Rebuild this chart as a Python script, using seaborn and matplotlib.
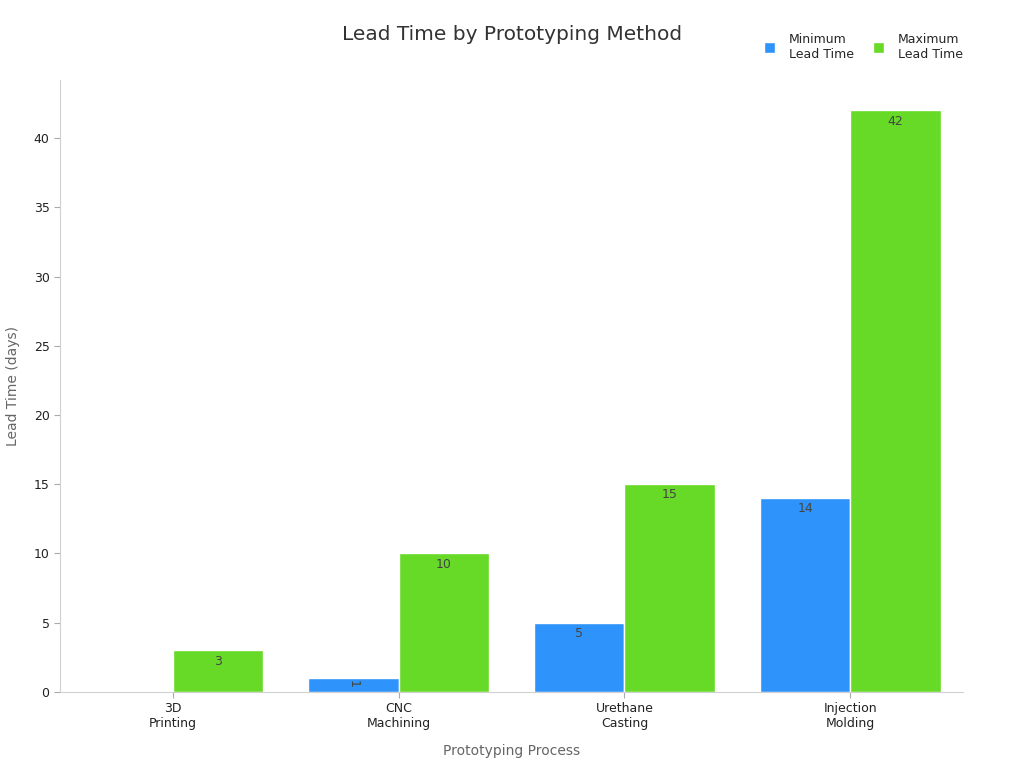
import pandas as pd
import matplotlib.pyplot as plt
import seaborn as sns

methods = ["3D\nPrinting", "CNC\nMachining", "Urethane\nCasting", "Injection\nMolding"]
min_lead = [0, 1, 5, 14]
max_lead = [3, 10, 15, 42]
series_names = ["Minimum\nLead Time", "Maximum\nLead Time"]
colors = ["#2E93FA", "#66DA26"]

df = pd.DataFrame({
    "Prototyping Process": methods * 2,
    "Lead Time (days)": min_lead + max_lead,
    "Series": [series_names[0]] * len(methods) + [series_names[1]] * len(methods),
})

sns.set_style("white")
plt.rcParams["font.family"] = ["DejaVu Sans"]

fig = plt.figure(figsize=(10.24, 7.68), dpi=100)
ax = fig.add_axes([0.0586, 0.099, 0.882, 0.797])

sns.barplot(data=df, x="Prototyping Process", y="Lead Time (days)", hue="Series",
            hue_order=series_names, palette=colors, width=0.8, gap=0,
            edgecolor="white", linewidth=1, saturation=1, ax=ax, legend=True)

# value labels just inside the top of each bar
for cont, vals in zip(ax.containers, [min_lead, max_lead]):
    for bar, v in zip(cont, vals):
        if v == 0:
            continue
        x = bar.get_x() + bar.get_width() / 2
        if v < 2:
            ax.annotate(str(v), (x, v), xytext=(0, -1), textcoords="offset points",
                        ha="center", va="top", rotation=-90, fontsize=9, color="#444444")
        else:
            ax.annotate(str(v), (x, v), xytext=(0, -3), textcoords="offset points",
                        ha="center", va="top", fontsize=9, color="#444444")

ax.set_ylim(0, 44.2)
ax.set_xlim(-0.5, 3.5)
ax.set_yticks(range(0, 41, 5))
ax.tick_params(axis="both", length=4, color="#aaaaaa", labelsize=9, labelcolor="#222222")
ax.tick_params(axis="x", bottom=True)
ax.tick_params(axis="y", left=True)
for s in ["top", "right"]:
    ax.spines[s].set_visible(False)
for s in ["left", "bottom"]:
    ax.spines[s].set_color("#d0d0d0")
ax.set_xlabel("Prototyping Process", fontsize=10, color="#666666", labelpad=10)
ax.set_ylabel("Lead Time (days)", fontsize=10, color="#666666", labelpad=10)

fig.suptitle("Lead Time by Prototyping Method", x=0.5, y=0.968, fontsize=14.5, color="#333333")

handles, labels = ax.get_legend_handles_labels()
ax.legend(handles, labels, loc="upper right", bbox_to_anchor=(0.951, 0.972),
          bbox_transform=fig.transFigure, ncol=2, frameon=False, fontsize=9,
          handlelength=0.9, handleheight=1.0, columnspacing=1.5, handletextpad=1.1)

fig.savefig("out.png", dpi=100)
